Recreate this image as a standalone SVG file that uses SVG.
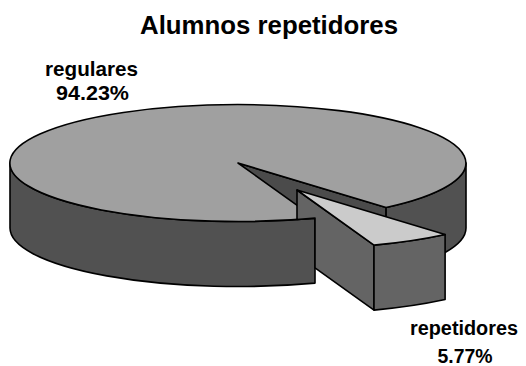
<svg xmlns="http://www.w3.org/2000/svg" width="526" height="366" viewBox="0 0 526 366">
<style>
.e{stroke:#000;stroke-width:1.6;stroke-linejoin:round}
.top{fill:#a0a0a0}
.side{fill:#515151}
.cut{fill:#4b4b4b}
.stop{fill:#cbcbcb}
.sside{fill:#646464}
text{font-family:"Liberation Sans",Arial,sans-serif;font-weight:bold;fill:#000;text-anchor:middle}
.t{font-size:25.5px}
.l1{font-size:20.6px}
.l2{font-size:19.6px}
</style>
<rect width="526" height="366" fill="#fff"/>
<text id="title" class="t" x="269" y="34" textLength="258" lengthAdjust="spacingAndGlyphs">Alumnos repetidores</text>
<g id="slice-regulares">
<polygon class="e cut" points="238,163 386.1,207.5 386.1,272.5 238,228"/>
<path class="e side" d="M466,163 A228,58.5 0 0 1 386.1,207.5 L386.1,272.5 A228,58.5 0 0 0 466,228 Z"/>
<path class="e side" d="M10,163 A228,58.5 0 0 0 315,218.1 L315,283.1 A228,58.5 0 0 1 10,228 Z"/>
<path class="e top" d="M238,163 L386.1,207.5 A228,58.5 0 1 0 315,218.1 Z"/>
</g>
<g id="slice-repetidores">
<polygon class="e sside" points="297,190 374,245.1 374,310.1 315,267.9 315,218.1 297,219.5"/>
<path class="e sside" d="M445.1,234.5 A228,58.5 0 0 1 374,245.1 L374,310.1 A228,58.5 0 0 0 445.1,299.5 Z"/>
<path class="e stop" d="M297,190 L445.1,234.5 A228,58.5 0 0 1 374,245.1 Z"/>
</g>
<g id="connectors"></g>
<g id="label-regulares">
<text class="l1" x="91.5" y="76" textLength="93" lengthAdjust="spacingAndGlyphs">regulares</text>
<text class="l1" x="92.5" y="100" textLength="73" lengthAdjust="spacingAndGlyphs">94.23%</text>
</g>
<g id="label-repetidores">
<text class="l2" x="464" y="335" textLength="108" lengthAdjust="spacingAndGlyphs">repetidores</text>
<text class="l2" x="465" y="363" textLength="55" lengthAdjust="spacingAndGlyphs">5.77%</text>
</g>
</svg>
